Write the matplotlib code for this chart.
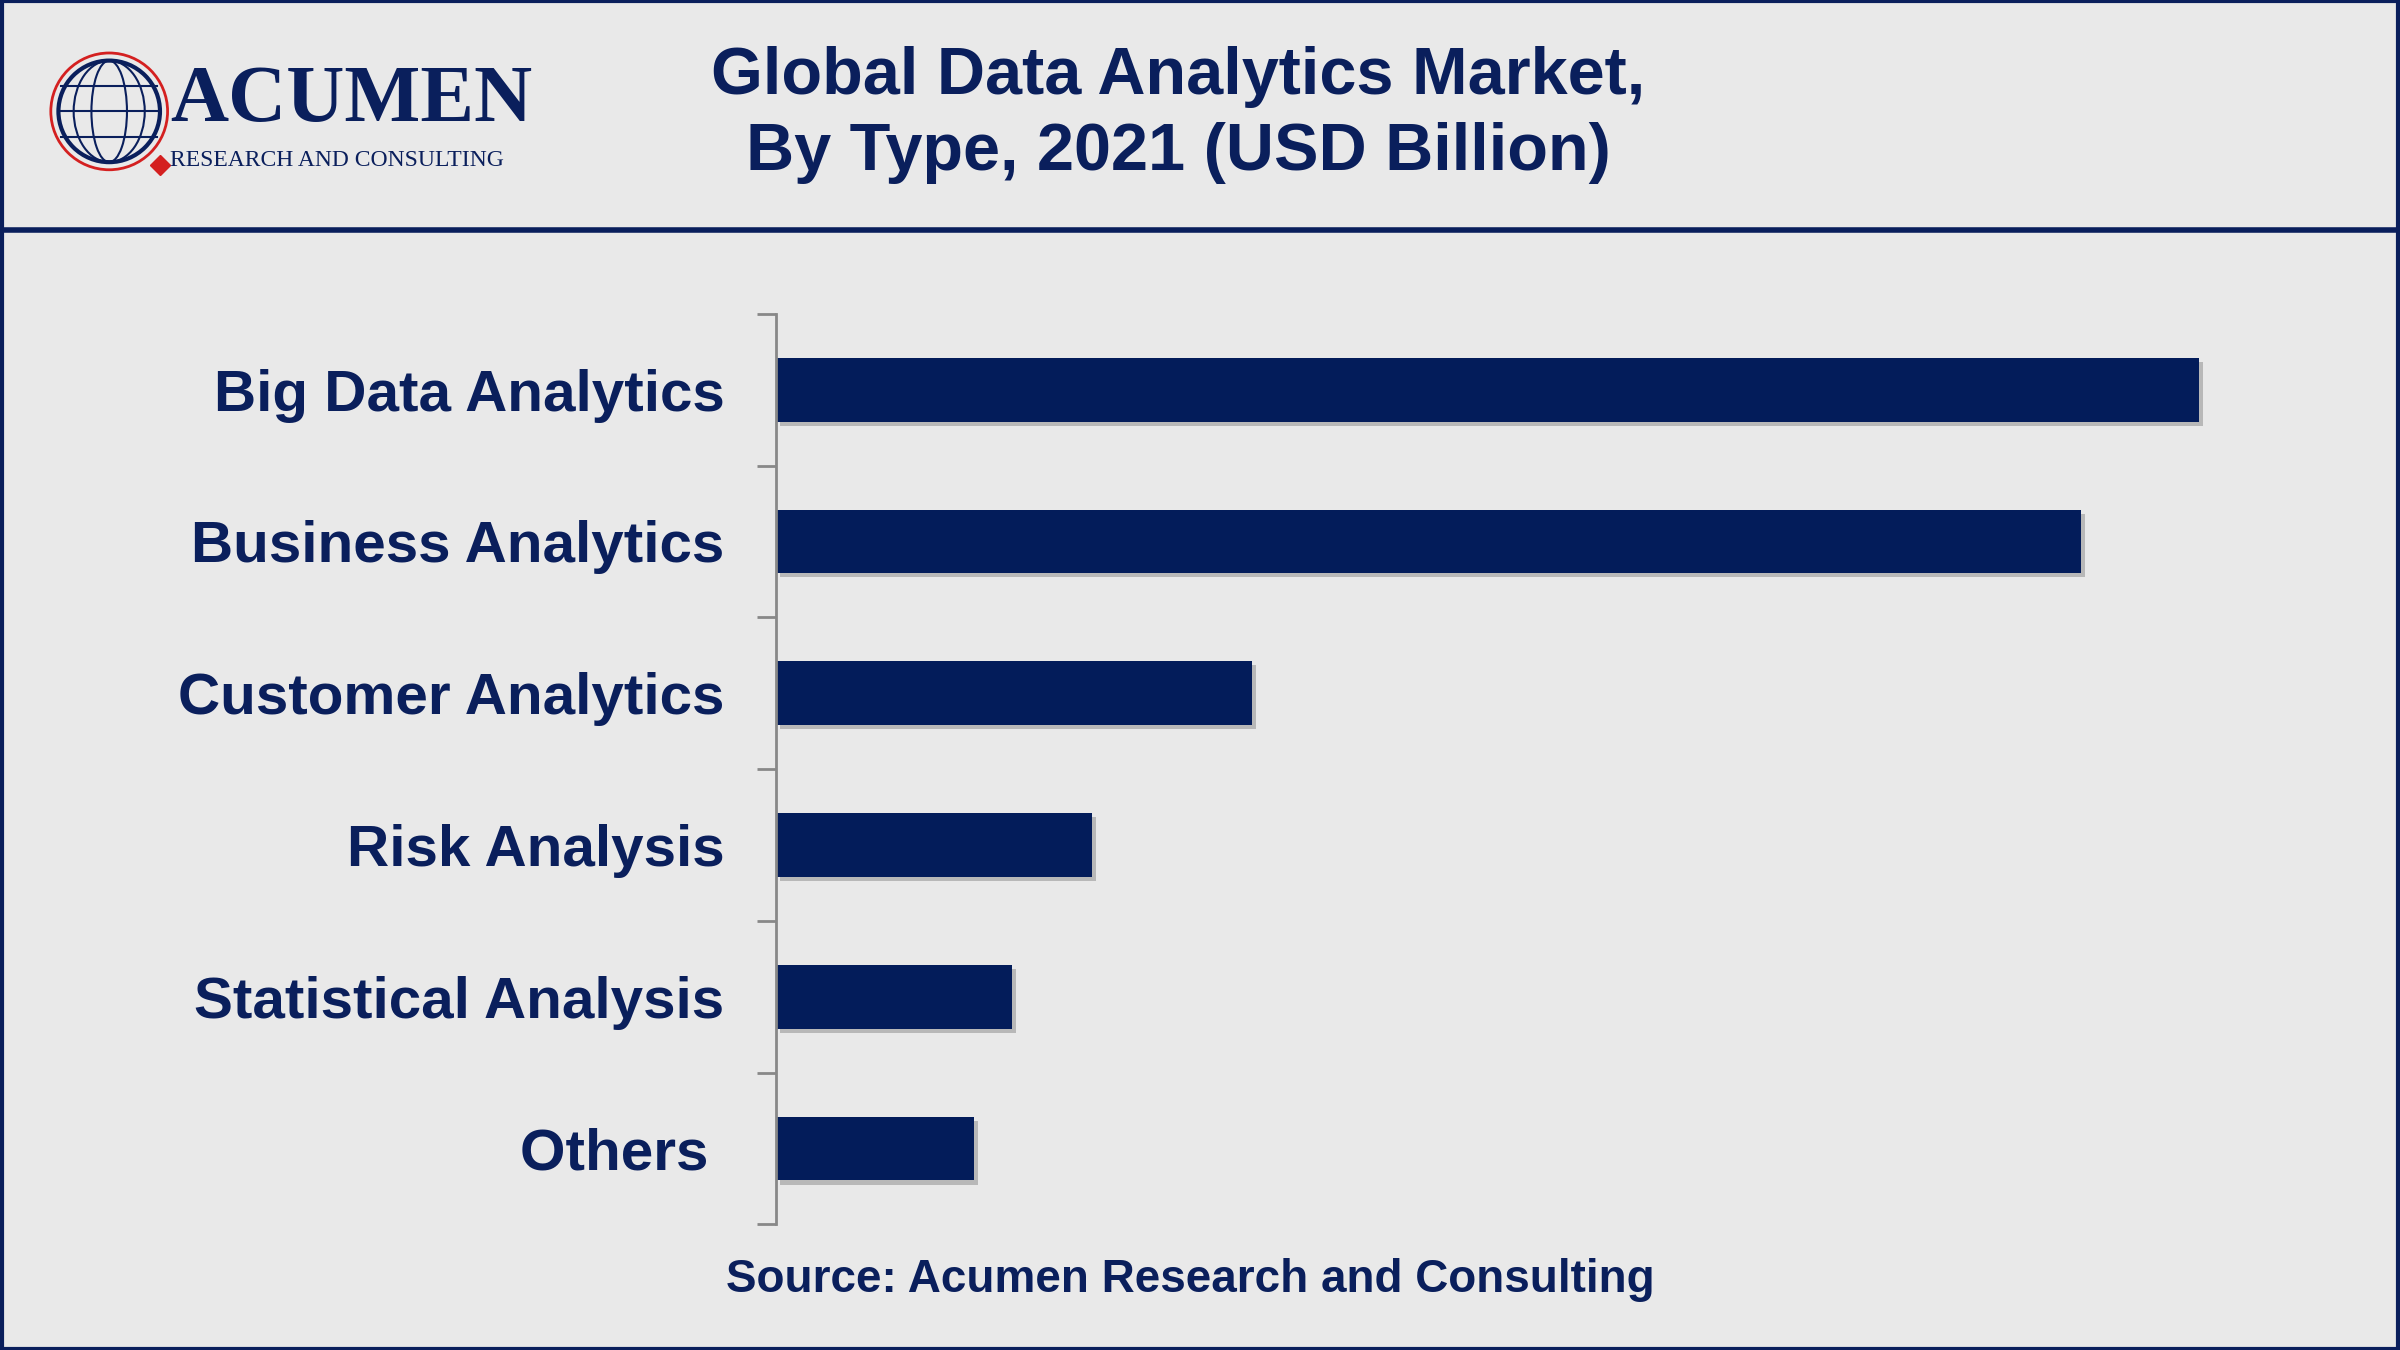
import matplotlib
matplotlib.use("Agg")
import matplotlib.pyplot as plt
import matplotlib.patheffects as pe
from matplotlib.patches import Circle, Rectangle, Ellipse

categories = ["Big Data Analytics", "Business Analytics", "Customer Analytics",
              "Risk Analysis", "Statistical Analysis", "Others "]
values = [41.0, 37.6, 13.7, 9.1, 6.8, 5.7]

NAVY = "#0a1f5c"
BAR = "#031c5a"
BG = "#e9e9e9"

plt.rcParams['font.family'] = ['Liberation Sans', 'DejaVu Sans']
fig = plt.figure(figsize=(24, 13.5), dpi=100, facecolor=BG)

fig.patches.append(Rectangle((0.001, 0.001), 0.998, 0.998, transform=fig.transFigure,
                             fill=False, edgecolor=NAVY, lw=3))
fig.add_artist(plt.Line2D([0, 1], [0.830, 0.830], color=NAVY, lw=4, transform=fig.transFigure))

fig.text(0.491, 0.943, "Global Data Analytics Market,", ha="center", va="center",
         fontsize=48, fontweight="bold", color=NAVY)
fig.text(0.491, 0.887, "By Type, 2021 (USD Billion)", ha="center", va="center",
         fontsize=48, fontweight="bold", color=NAVY)

# logo
la = fig.add_axes([0.018, 0.865, 0.055, 0.105])
la.set_xlim(-1.3, 1.3); la.set_ylim(-1.3, 1.3); la.set_aspect("equal"); la.axis("off")
la.add_patch(Circle((0, 0), 1.0, fill=False, ec=NAVY, lw=3))
for w in [0.35, 0.7]:
    la.add_patch(Ellipse((0, 0), 2*w, 2.0, fill=False, ec=NAVY, lw=1.5))
for h in [-0.5, 0, 0.5]:
    la.plot([-0.95, 0.95], [h, h], color=NAVY, lw=1.5)
la.add_patch(Circle((0, 0), 1.15, fill=False, ec="#d42020", lw=2))
la.plot([1.0], [-1.05], marker="D", color="#d42020", ms=10)
fig.text(0.071, 0.925, "ACUMEN", fontsize=58, color=NAVY, family="Liberation Serif",
         fontweight="bold", va="center", ha="left")
fig.text(0.071, 0.881, "RESEARCH AND CONSULTING", fontsize=17, color=NAVY,
         family="Liberation Serif", va="center", ha="left")

ax = fig.add_axes([0.3233, 0.093, 0.635, 0.6746])
ax.set_facecolor(BG)
y = list(range(len(categories)))
bars = ax.barh(y, values, height=0.42, color=BAR)
for b in bars:
    b.set_path_effects([pe.SimplePatchShadow(offset=(3, -3), shadow_rgbFace="#888888", alpha=0.5),
                        pe.Normal()])
ax.set_ylim(len(categories) - 0.5, -0.5)
ax.set_xlim(0, 43.9)
for s in ["top", "right", "bottom"]:
    ax.spines[s].set_visible(False)
ax.spines["left"].set_color("#888888")
ax.spines["left"].set_linewidth(2)
ax.set_xticks([])
ax.set_yticks(y)
ax.set_yticklabels(categories, fontsize=42, fontweight="bold", color=NAVY)
ax.tick_params(axis="y", which="major", length=0, pad=37)
ax.set_yticks([i - 0.5 for i in range(len(categories) + 1)], minor=True)
ax.tick_params(axis="y", which="minor", length=14, width=2, color="#888888")

fig.text(0.496, 0.052, "Source: Acumen Research and Consulting", ha="center", va="center",
         fontsize=33, fontweight="bold", color=NAVY)

fig.savefig("out.png", dpi=100, facecolor=BG)
